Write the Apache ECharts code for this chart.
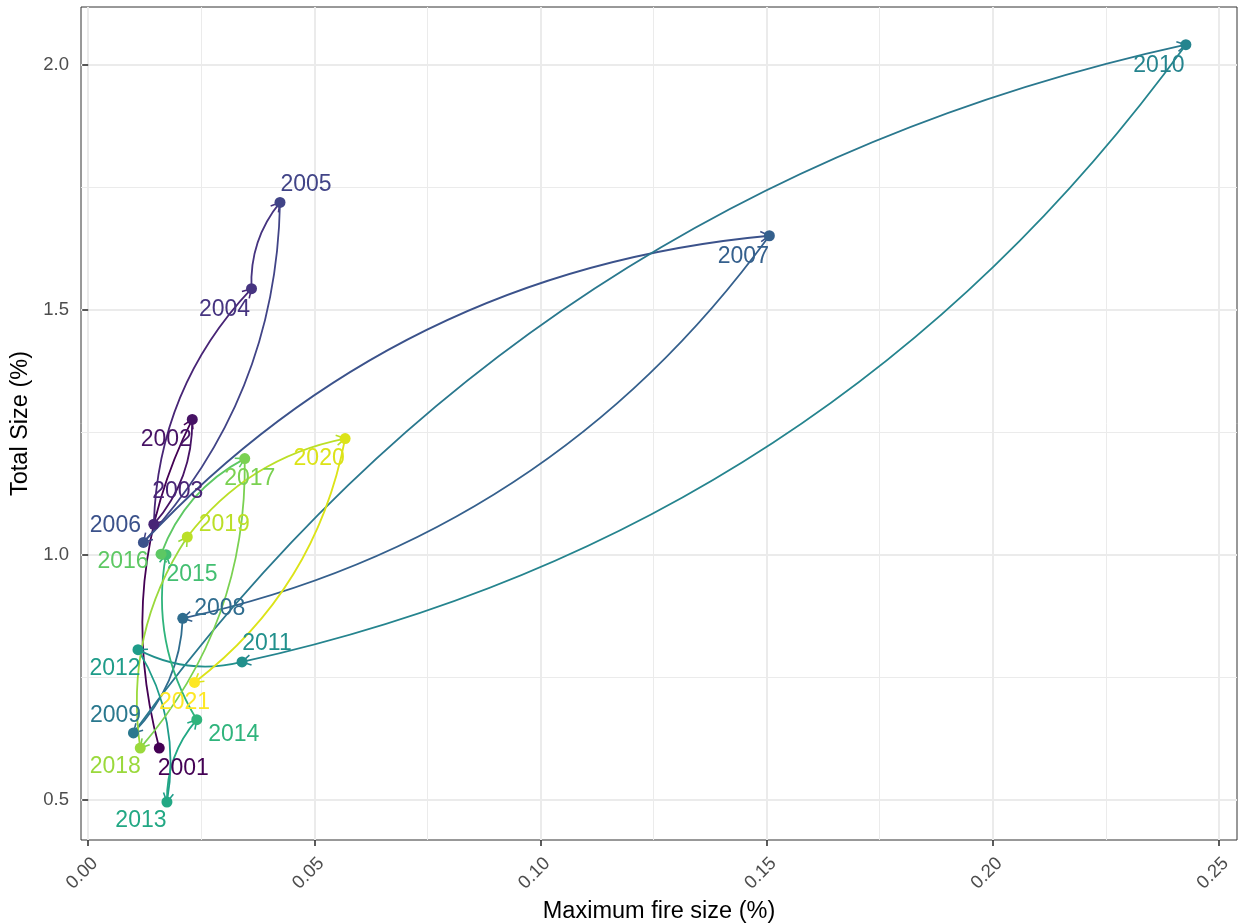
<!DOCTYPE html>
<html>
<head>
<meta charset="utf-8">
<script src="https://cdn.jsdelivr.net/npm/echarts@6/dist/echarts.min.js"></script>
<style>html,body{margin:0;padding:0;background:#fff}#chart{width:1239px;height:923px}</style>
</head>
<body>
<div id="chart"></div>
<script>
// ---- data ----
const years = [2001,2002,2003,2004,2005,2006,2007,2008,2009,2010,2011,2012,2013,2014,2015,2016,2017,2018,2019,2020,2021];
const maxFireSize = [0.0157,0.0230,0.0145,0.0361,0.0424,0.0122,0.1506,0.0209,0.0100,0.2427,0.0340,0.0110,0.0174,0.0240,0.0172,0.0161,0.0346,0.0115,0.0219,0.0568,0.0235];
const totalSize   = [0.605,1.276,1.062,1.543,1.719,1.025,1.651,0.870,0.636,2.041,0.781,0.806,0.495,0.663,1.000,1.001,1.196,0.605,1.036,1.237,0.739];
const xTicks = [0, 0.05, 0.10, 0.15, 0.20, 0.25];
const xMinorTicks = [0.025, 0.075, 0.125, 0.175, 0.225];
const yTicks = [0.5, 1.0, 1.5, 2.0];
const yMinorTicks = [0.75, 1.25, 1.75];

// ---- styling / layout ----
const viridis = ["#440154","#471365","#482576","#463480","#414487","#3B528B","#35608D","#2F6C8E","#2A788E","#25848E","#21908C","#1E9C89","#22A884","#2FB47C","#43BF71","#5DC863","#7AD151","#9AD93C","#BBDF27","#DCE318","#FDE725"];
const labelOffsets = [[24,21],[-26,20],[24,-33],[-27,21],[26,-18],[-28,-17],[-26,21],[37,-10],[-18,-17],[-27,21],[25,-18],[-23,19],[-26,19],[37,15],[26,20],[-38,8],[5,20],[-25,19],[37,-12],[-26,20],[-10,20]];
const FONT = 'Liberation Sans, Arial, Helvetica, sans-serif';
// open arrow head, tip at the symbol centre
const arrowHead = 'path://M0,0 M20,20 M10.69,10.4 L9.31,9.6 L4.31,18.26 L5.69,19.06 Z M9.31,10.4 L10.69,9.6 L15.69,18.26 L14.31,19.06 Z';

const xMin = -0.0016, xMax = 0.2540, yMin = 0.4174, yMax = 2.118;

const pointData = years.map((yr, i) => ({
  name: String(yr),
  value: [maxFireSize[i], totalSize[i]],
  itemStyle: { color: viridis[i], opacity: 1 },
  label: { color: viridis[i], offset: labelOffsets[i] }
}));

const lineData = [];
for (let i = 0; i < years.length - 1; i++) {
  lineData.push({
    coords: [[maxFireSize[i], totalSize[i]], [maxFireSize[i+1], totalSize[i+1]]],
    lineStyle: { color: viridis[i] }
  });
}

const chart = echarts.init(document.getElementById('chart'), null, { renderer: 'canvas' });
const baseX = {
  type: 'value', min: xMin, max: xMax, position: 'bottom',
  axisLine: { show: false }
};
const baseY = {
  type: 'value', min: yMin, max: yMax, position: 'left',
  axisLine: { show: false }
};
chart.setOption({
  animation: false,
  textStyle: { fontFamily: FONT },
  grid: { left: 81, top: 7, width: 1156, height: 833, containLabel: false, outerBoundsMode: 'none',
          show: true, borderColor: '#333333', borderWidth: 1, backgroundColor: 'transparent' },
  xAxis: [
    Object.assign({}, baseX, {
      axisTick: { show: true, length: 6, lineStyle: { color: '#333333', width: 1.6 }, customValues: xTicks },
      axisLabel: { customValues: xTicks, rotate: 45, margin: 14, verticalAlign: 'top', fontSize: 18.5, color: '#4D4D4D', fontFamily: FONT, formatter: v => v.toFixed(2) },
      splitLine: { show: true, lineStyle: { color: '#EBEBEB', width: 2 } },
      name: 'Maximum fire size (%)', nameLocation: 'middle', nameGap: 56,
      nameTextStyle: { fontSize: 23.5, color: '#000000', fontFamily: FONT }
    }),
    Object.assign({}, baseX, {
      axisTick: { show: false, customValues: xMinorTicks },
      axisLabel: { show: false, customValues: xMinorTicks },
      splitLine: { show: true, lineStyle: { color: '#EBEBEB', width: 1 } }
    })
  ],
  yAxis: [
    Object.assign({}, baseY, {
      axisTick: { show: true, length: 6, lineStyle: { color: '#333333', width: 1.6 }, customValues: yTicks },
      axisLabel: { customValues: yTicks, margin: 12, fontSize: 18.5, color: '#4D4D4D', fontFamily: FONT, formatter: v => v.toFixed(1) },
      splitLine: { show: true, lineStyle: { color: '#EBEBEB', width: 2 } },
      name: 'Total Size (%)', nameLocation: 'middle', nameGap: 38,
      nameTextStyle: { fontSize: 23.5, color: '#000000', fontFamily: FONT }
    }),
    Object.assign({}, baseY, {
      axisTick: { show: false, customValues: yMinorTicks },
      axisLabel: { show: false, customValues: yMinorTicks },
      splitLine: { show: true, lineStyle: { color: '#EBEBEB', width: 1 } }
    })
  ],
  series: [
    {
      type: 'lines', coordinateSystem: 'cartesian2d', xAxisIndex: 0, yAxisIndex: 0,
      silent: true, z: 2,
      lineStyle: { width: 1.8, curveness: 0.19, opacity: 1 },
      symbol: ['none', arrowHead], symbolSize: 20,
      data: lineData
    },
    {
      type: 'scatter', xAxisIndex: 0, yAxisIndex: 0, z: 3, silent: true,
      symbol: 'circle', symbolSize: 11,
      itemStyle: { opacity: 1 },
      label: { show: true, position: 'inside', formatter: p => p.name, fontSize: 23, fontFamily: FONT },
      data: pointData
    }
  ]
});
</script>
</body>
</html>
